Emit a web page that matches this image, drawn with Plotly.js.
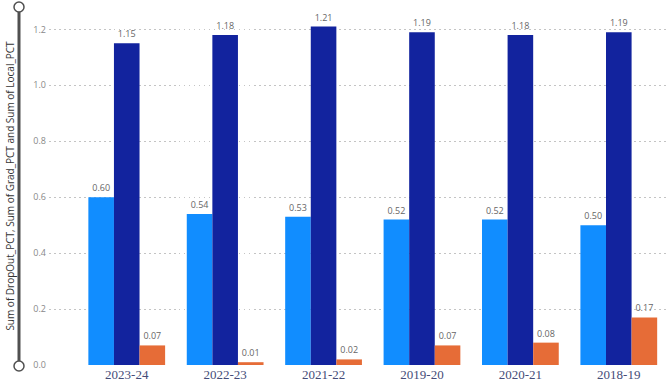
<!DOCTYPE html>
<html>
<head>
<meta charset="utf-8">
<script src="https://cdn.plot.ly/plotly-3.0.1.min.js"></script>
<style>html,body{margin:0;padding:0;background:#fff;}#chart{width:670px;height:382px;}</style>
</head>
<body>
<div id="chart"></div>
<script>
const categories = ["2023-24", "2022-23", "2021-22", "2019-20", "2020-21", "2018-19"];
const dropoutPct = [0.60, 0.54, 0.53, 0.52, 0.52, 0.50];
const gradPct = [1.15, 1.18, 1.21, 1.19, 1.18, 1.19];
const localPct = [0.07, 0.01, 0.02, 0.07, 0.08, 0.17];
const seriesNames = ["Sum of DropOut_PCT", "Sum of Grad_PCT", "Sum of Local_PCT"];
const seriesColors = ["#118DFF", "#12239E", "#E66C37"];
const yTicks = [0, 0.2, 0.4, 0.6, 0.8, 1.0, 1.2];

const allSeries = [dropoutPct, gradPct, localPct];
const traces = allSeries.map((vals, i) => ({
  type: "bar",
  name: seriesNames[i],
  x: categories,
  y: vals,
  marker: {color: seriesColors[i]},
  text: vals.map(v => v.toFixed(2)),
  textposition: "outside",
  textfont: {family: "Open Sans, sans-serif", size: 9, color: "#666666"},
  cliponaxis: false,
  hoverinfo: "none"
}));

const layout = {
  width: 670, height: 382,
  margin: {l: 49, r: 2, t: 7, b: 17},
  paper_bgcolor: "#ffffff",
  plot_bgcolor: "#ffffff",
  barmode: "group",
  bargap: 0.22,
  bargroupgap: 0,
  showlegend: false,
  xaxis: {
    type: "category",
    range: [-0.79, 5.5],
    showgrid: false, zeroline: false, showline: false,
    ticks: "",
    tickfont: {family: "Liberation Serif, serif", size: 13, color: "#454c78"},
    fixedrange: true
  },
  yaxis: {
    range: [0, 1.28],
    tickvals: yTicks,
    ticktext: yTicks.map(v => v.toFixed(1)),
    showgrid: true,
    gridcolor: "#c4c4c4",
    griddash: "1.5px,3.5px",
    gridwidth: 1,
    zeroline: false,
    showline: false,
    ticks: "",
    ticklabelstandoff: 2,
    tickfont: {family: "Open Sans, sans-serif", size: 9, color: "#888888"},
    title: {
      text: "Sum of DropOut_PCT, Sum of Grad_PCT and Sum of Local_PCT",
      font: {family: "Open Sans, sans-serif", size: 10, color: "#333333"},
      standoff: 16
    },
    fixedrange: true
  },
  shapes: [
    {type: "line", xref: "paper", yref: "paper", x0: -30/619, x1: -30/619, y0: -1/358, y1: 358/358, line: {color: "#505050", width: 3}},
    {type: "circle", xref: "paper", yref: "paper", x0: -35/619, x1: -25/619, y0: 353/358, y1: 363/358, fillcolor: "#ffffff", line: {color: "#505050", width: 1.5}},
    {type: "circle", xref: "paper", yref: "paper", x0: -35/619, x1: -25/619, y0: -6/358, y1: 4/358, fillcolor: "#ffffff", line: {color: "#505050", width: 1.5}}
  ]
};

Plotly.newPlot("chart", traces, layout, {displayModeBar: false, staticPlot: true});
</script>
</body>
</html>
